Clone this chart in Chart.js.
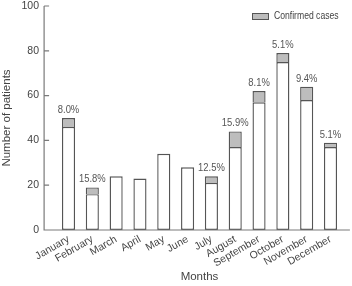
<!DOCTYPE html>
<html>
<head>
<meta charset="utf-8">
<script src="https://cdn.jsdelivr.net/npm/chart.js@4/dist/chart.umd.min.js"></script>
<style>
  html, body { margin: 0; padding: 0; background: #fff; }
  #wrap { width: 352px; height: 286px; }
</style>
</head>
<body>
<div id="wrap"><canvas id="chart" width="352" height="286"></canvas></div>
<script>
// Data
const months = ["January", "February", "March", "April", "May", "June", "July", "August", "September", "October", "November", "December"];
const otherCases = [46, 16, 24, 23, 34, 28, 21, 37, 57, 75, 58, 37];
const confirmedCases = [4, 3, 0, 0, 0, 0, 3, 7, 5, 4, 6, 2];
const percentLabels = ["8.0%", "15.8%", "", "", "", "", "12.5%", "15.9%", "8.1%", "5.1%", "9.4%", "5.1%"];
const yTicks = [0, 20, 40, 60, 80, 100];

const FONT = "'Liberation Sans', Arial, sans-serif";
const axisColor = '#7a7a7a';
const textColor = '#444';
const barBorder = '#555';
const greyFill = '#bdbdbd';

// narrow-looking text for the hand drawn labels
function narrowText(ctx, text, x, y) {
  ctx.save();
  ctx.translate(x, y);
  ctx.scale(0.82, 1);
  ctx.fillText(text, 0, 0);
  ctx.restore();
}

// axes, legend and percent labels drawn by hand
const extras = {
  id: 'extras',
  afterDatasetsDraw(chart) {
    const ctx = chart.ctx;
    const x = chart.scales.x, y = chart.scales.y;
    const area = chart.chartArea;
    const axisLeft = area.left - 12.5;
    const axisRight = area.right + 7.5;

    ctx.save();
    ctx.strokeStyle = axisColor;
    ctx.lineWidth = 1.2;
    ctx.beginPath();
    ctx.moveTo(axisLeft, y.getPixelForValue(100));
    ctx.lineTo(axisLeft, y.getPixelForValue(0));
    ctx.lineTo(axisRight, y.getPixelForValue(0));
    yTicks.forEach(v => {
      const py = y.getPixelForValue(v);
      ctx.moveTo(axisLeft, py);
      ctx.lineTo(axisLeft + 5, py);
    });
    ctx.stroke();

    // percent labels above the bars
    ctx.fillStyle = '#555';
    ctx.font = "11.5px " + FONT;
    ctx.textAlign = 'center';
    ctx.textBaseline = 'alphabetic';
    months.forEach((m, i) => {
      if (!percentLabels[i]) return;
      const total = otherCases[i] + confirmedCases[i];
      narrowText(ctx, percentLabels[i], x.getPixelForValue(i), y.getPixelForValue(total) - 5);
    });

    // legend
    const lx = area.right - 90.4, ly = area.top + 7;
    ctx.fillStyle = greyFill;
    ctx.fillRect(lx, ly, 17, 6);
    ctx.strokeStyle = barBorder;
    ctx.lineWidth = 1;
    ctx.strokeRect(lx + 0.5, ly + 0.5, 16, 6);
    ctx.fillStyle = textColor;
    ctx.font = "10.5px " + FONT;
    ctx.textAlign = 'left';
    ctx.textBaseline = 'middle';
    narrowText(ctx, chart.data.datasets[1].label, lx + 22, ly + 3.5);
    ctx.restore();
  }
};

new Chart(document.getElementById('chart'), {
  type: 'bar',
  data: {
    labels: months,
    datasets: [{
      label: 'Other cases',
      data: otherCases,
      backgroundColor: '#fff',
      borderColor: barBorder,
      borderWidth: 1.4,
      borderSkipped: false,
      barPercentage: 0.55,
      categoryPercentage: 1
    }, {
      label: 'Confirmed cases',
      data: confirmedCases,
      backgroundColor: greyFill,
      borderColor: barBorder,
      borderWidth: 1.4,
      borderSkipped: 'bottom',
      barPercentage: 0.55,
      categoryPercentage: 1
    }]
  },
  options: {
    responsive: false,
    animation: false,
    layout: { padding: { top: 6, right: 9.6, bottom: 0, left: 0 } },
    plugins: {
      legend: { display: false },
      tooltip: { enabled: false }
    },
    scales: {
      x: {
        stacked: true,
        grid: { display: false, drawTicks: false },
        border: { display: false },
        ticks: {
          color: textColor,
          font: { family: FONT, size: 10.5 },
          minRotation: 30,
          maxRotation: 30,
          autoSkip: false,
          padding: 3
        },
        title: {
          display: true,
          text: 'Months',
          color: textColor,
          font: { family: FONT, size: 11.5 },
          padding: { top: 0, bottom: 2 }
        },
        afterFit(scale) {
          scale.height = 56;
          scale.paddingLeft = 0;
          scale.paddingRight = 0;
        }
      },
      y: {
        stacked: true,
        min: 0,
        max: 100,
        grid: { display: false, drawTicks: false },
        border: { display: false },
        ticks: {
          stepSize: 20,
          color: textColor,
          font: { family: FONT, size: 10.5 },
          padding: 17.6
        },
        title: {
          display: true,
          text: 'Number of patients',
          color: textColor,
          font: { family: FONT, size: 11.5 },
          padding: { top: 0, bottom: 0 }
        },
        afterFit(scale) {
          scale.width = 56.6;
          scale.paddingTop = 0;
          scale.paddingBottom = 0;
        }
      }
    }
  },
  plugins: [extras]
});
</script>
</body>
</html>
